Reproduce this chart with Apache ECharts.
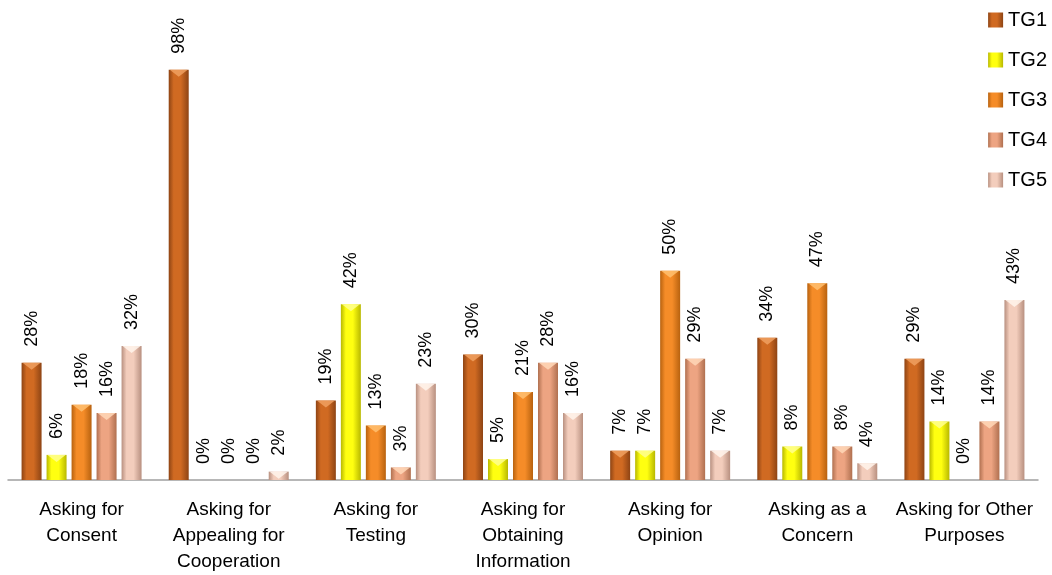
<!DOCTYPE html>
<html><head><meta charset="utf-8">
<script src="https://cdn.jsdelivr.net/npm/echarts@6/dist/echarts.min.js"></script>
<style>html,body{margin:0;padding:0;background:#fff}#c{width:1052px;height:575px}</style>
</head><body><div id="c"></div>
<script>
var categories = ['Asking for\nConsent', 'Asking for\nAppealing for\nCooperation', 'Asking for\nTesting', 'Asking for\nObtaining\nInformation', 'Asking for\nOpinion', 'Asking as a\nConcern', 'Asking for Other\nPurposes'];
var seriesNames = ['TG1', 'TG2', 'TG3', 'TG4', 'TG5'];
var TG1 = [28, 98, 19, 30, 7, 34, 29];
var TG2 = [6, 0, 42, 5, 7, 8, 14];
var TG3 = [18, 0, 13, 21, 50, 47, 0];
var TG4 = [16, 0, 3, 28, 29, 8, 14];
var TG5 = [32, 2, 23, 16, 7, 4, 43];
var allData = [TG1, TG2, TG3, TG4, TG5];

var palette = [
  {edge: '#8E4414', mid: '#D06A22', tri: '#F0A060'},
  {edge: '#B8B800', mid: '#FFFF10', tri: '#FFFF90'},
  {edge: '#B8620F', mid: '#F58C28', tri: '#FFC070'},
  {edge: '#B07050', mid: '#EDA482', tri: '#FFD8B8'},
  {edge: '#B89080', mid: '#F3CDBC', tri: '#FFF4EC'}
];
function grad(p){
  return new echarts.graphic.LinearGradient(0,0,1,0,[
    {offset:0, color:p.edge},{offset:0.25, color:p.mid},{offset:0.6, color:p.mid},{offset:1, color:p.edge}
  ]);
}
var series = [];
allData.forEach(function(d, i){
  series.push({
    name: seriesNames[i], type: 'bar', data: d, barWidth: 20, barGap: '25%',
    itemStyle: {color: grad(palette[i])},
    label: {show: true, position: 'top', rotate: 90, align: 'left', verticalAlign: 'middle', distance: 16,
      formatter: '{c}%', fontFamily: 'Liberation Sans', fontSize: 18, color: '#000'}
  });
});
allData.forEach(function(d, i){
  series.push({
    name: seriesNames[i] + '_top', type: 'pictorialBar', barWidth: 20, barGap: '25%',
    symbol: 'path://M0,0 L20,0 L10,7 Z', symbolSize: [18, 7], symbolPosition: 'end',
    symbolOffset: [0, '0%'], z: 3, silent: true,
    itemStyle: {color: palette[i].tri, opacity: 0.85},
    data: d.map(function(v){ return v === 0 ? {value: v, symbol: 'none'} : v; })
  });
});

var chart = echarts.init(document.getElementById('c'));
chart.setOption({
  animation: false,
  legend: {
    data: seriesNames, orient: 'vertical', right: 0, top: 5, itemWidth: 15, itemHeight: 15, itemGap: 20,
    icon: 'rect', textStyle: {fontFamily: 'Liberation Sans', fontSize: 20, color: '#000'}
  },
  grid: {left: 8, right: 14, top: 61.5, bottom: 90, containLabel: false},
  xAxis: {
    type: 'category', data: categories,
    axisLine: {lineStyle: {color: '#A0A0A0', width: 1.5}},
    axisTick: {show: false},
    axisLabel: {interval: 0, margin: 17, lineHeight: 26, fontFamily: 'Liberation Sans', fontSize: 19, color: '#000'}
  },
  yAxis: {type: 'value', min: 0, max: 100, show: false, splitLine: {show: false}},
  series: series
});
</script></body></html>
